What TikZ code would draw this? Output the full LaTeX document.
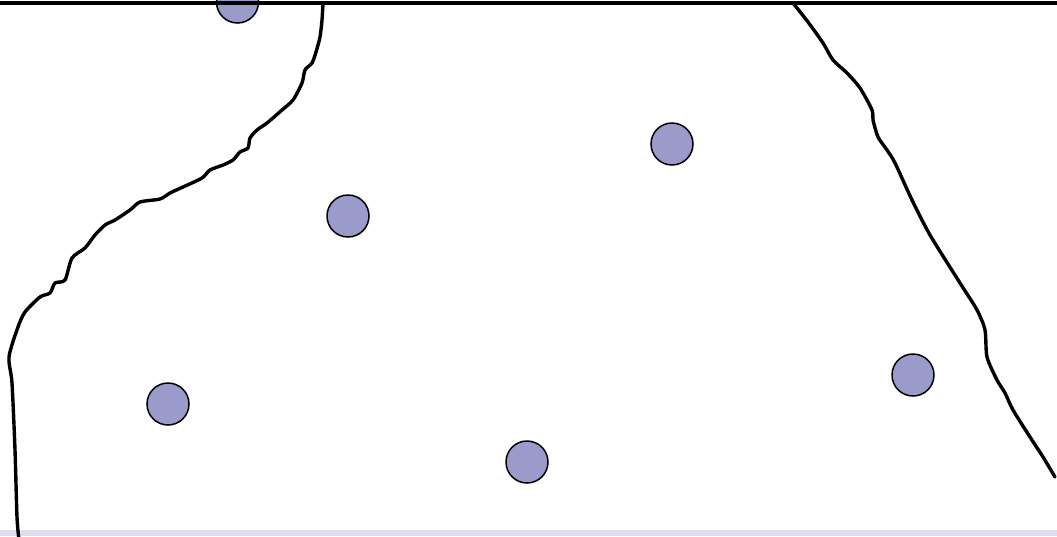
\documentclass[tikz,border=0pt]{standalone}
\usepackage{tikz}
\definecolor{dotfill}{HTML}{9B9BCB}
\definecolor{stripfill}{HTML}{E0DDF0}
\tikzset{
  dot/.style={circle, draw=black, line width=1.5pt, fill=dotfill, minimum size=42pt, inner sep=0pt},
  border/.style={black, line width=3.4pt, line join=round, line cap=round},
}
\begin{document}
\begin{tikzpicture}[x=1pt,y=-1pt]
\useasboundingbox (0,0) rectangle (1057,536);
\clip (0,0) rectangle (1057,536);
\fill[stripfill] (0,530) rectangle (1057,536);
% left wavy border
\draw[border] plot[smooth, tension=0.45] coordinates {
(323,3) (322,20) (320,37) (316,52) (312,63) (305,70) (302,83) (293,100) (282,110)
(267,123) (257,130) (250,138) (248,148) (240,152) (233,160) (223,165) (210,170)
(202,178) (183,187) (170,193) (160,199) (140,202) (130,210) (115,220) (105,225)
(95,235) (85,248) (72,258) (65,280) (55,283) (50,293) (40,297) (25,312) (18,327)
(9,357) (12,383) (15,450) (17,517) (19,540)};
% right wavy border
\draw[border] plot[smooth, tension=0.45] coordinates {
(793,3) (808,22) (823,43) (833,60) (847,73) (860,88) (872,110) (873,120) (878,137)
(887,150) (895,163) (912,200) (930,235) (960,283) (977,310) (985,330) (987,357)
(997,380) (1005,393) (1013,410) (1030,437) (1043,457) (1055,477)};
% dots
\node[dot] (d0) at (237.5,2) {};
\node[dot] (d1) at (348,216) {};
\node[dot] (d2) at (672,144) {};
\node[dot] (d3) at (168,404) {};
\node[dot] (d4) at (527,462) {};
\node[dot] (d5) at (913,375) {};
\draw[black, line width=4.5pt] (0,3) -- (1057,3);
\end{tikzpicture}
\end{document}
